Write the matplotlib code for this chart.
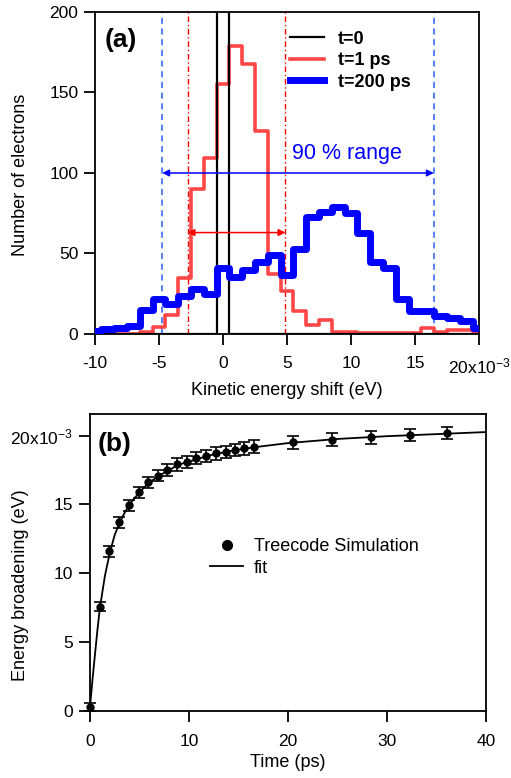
import numpy as np
import matplotlib
matplotlib.use("Agg")
import matplotlib.pyplot as plt
from matplotlib.lines import Line2D

plt.rcParams['font.family'] = ['Liberation Sans', 'DejaVu Sans']
plt.rcParams['mathtext.fontset'] = 'custom'
plt.rcParams['mathtext.rm'] = 'Liberation Sans'
plt.rcParams['mathtext.default'] = 'regular'
plt.rcParams['font.size'] = 12.5

# --- panel (a): histograms, bin centres in units of 1e-3 eV ---
bin_centers = list(range(-10, 21))
counts_t0 = [0] * 10 + [1000] + [0] * 20
counts_1ps = [0, 0, 0, 0, 1, 4.5, 12, 35, 90, 109, 155, 179, 168, 126, 37, 27,
              14, 5.5, 8.5, 1, 1, 0.5, 0.5, 0.5, 0.5, 0.5, 3.5, 1, 2.5, 2.5, 1]
counts_200ps = [2, 3, 4, 5, 15, 22, 18.5, 23.5, 28, 25, 41, 35.5, 40, 45, 49, 36.5,
                53, 72.5, 76, 79, 75, 63, 45, 41, 22, 14, 14.5, 11, 10, 8.3, 3.7]

range90_200ps = (-4.75, 16.47)
range90_1ps = (-2.77, 4.88)
xticks_a = [-10, -5, 0, 5, 10, 15, 20]
xticklabels_a = ['-10', '-5', '0', '5', '10', '15', '20x10$^{-3}$']

# --- panel (b): energy broadening vs time ---
t_sim = [0, 1.04, 1.95, 2.96, 3.94, 4.9, 5.9, 6.83, 7.8, 8.8, 9.77, 10.7, 11.7,
         12.7, 13.7, 14.6, 15.6, 16.6, 20.5, 24.4, 28.35, 32.3, 36.1]
e_sim = [0.3, 7.6, 11.6, 13.7, 14.95, 15.9, 16.6, 17.1, 17.5, 17.9, 18.1, 18.35,
         18.5, 18.7, 18.8, 18.95, 19.07, 19.2, 19.5, 19.7, 19.87, 20.04, 20.2]
e_err = [0.3, 0.3, 0.4, 0.4, 0.4, 0.4, 0.4, 0.4, 0.45, 0.45, 0.45, 0.45, 0.45,
         0.45, 0.45, 0.45, 0.45, 0.45, 0.45, 0.45, 0.45, 0.45, 0.45]
t_fit = [0, 0.25, 0.5, 0.75, 1, 1.5, 2, 2.5, 3, 3.5, 4, 5, 6, 7, 8, 9, 10, 12,
         14, 16.6, 20, 25, 30, 35, 40]
e_fit = [0.3, 2.3, 4.1, 5.9, 7.5, 9.8, 11.5, 12.8, 13.7, 14.4, 15.0, 15.9, 16.6,
         17.1, 17.5, 17.9, 18.1, 18.55, 18.85, 19.15, 19.45, 19.75, 19.95, 20.1, 20.25]
yticks_b = [0, 5, 10, 15, 20]
yticklabels_b = ['0', '5', '10', '15', '20x10$^{-3}$']

red = '#ff4646'
fig = plt.figure(figsize=(5.11, 7.78), dpi=100)

# ---------------- panel (a) ----------------
ax = fig.add_axes([0.1859, 0.5707, 0.7515, 0.4139])
edges = np.array(bin_centers + [bin_centers[-1] + 1]) - 0.5
ax.stairs(counts_1ps, edges, color=red, lw=2.6, label='t=1 ps', zorder=2,
          joinstyle='round')
ax.stairs(counts_t0, edges, color='black', lw=1.6, label='t=0', zorder=2.5)
ax.stairs(counts_200ps, edges, color='blue', lw=5, label='t=200 ps', zorder=3,
          joinstyle='round')

for xv in range90_200ps:
    ax.axvline(xv, color='#2a5cff', lw=1.1, ls=(0, (4, 3)), zorder=1.5)
for xv in range90_1ps:
    ax.axvline(xv, color='red', lw=1.0, ls=(0, (4, 2, 1, 2)), zorder=1.5)

ax.annotate('', xy=(range90_200ps[1], 100), xytext=(range90_200ps[0], 100),
            arrowprops=dict(arrowstyle='<|-|>', color='blue', lw=1.1,
                            mutation_scale=10, shrinkA=0, shrinkB=0))
ax.annotate('', xy=(range90_1ps[1], 63), xytext=(range90_1ps[0], 63),
            arrowprops=dict(arrowstyle='<|-|>', color='red', lw=1.1,
                            mutation_scale=10, shrinkA=0, shrinkB=0))
ax.text(9.7, 112, '90 % range', color='blue', fontsize=15.5, ha='center', va='center')
ax.text(0.025, 0.95, '(a)', transform=ax.transAxes, fontsize=19,
        fontweight='bold', ha='left', va='top')

ax.set_xlim(-10, 20)
ax.set_ylim(0, 200)
ax.set_xticks(xticks_a)
ax.set_xticklabels(xticklabels_a)
ax.set_yticks([0, 50, 100, 150, 200])
ax.set_xlabel('Kinetic energy shift (eV)', fontsize=13, labelpad=4)
ax.set_ylabel('Number of electrons', fontsize=13)
ax.yaxis.set_label_coords(-0.172, 0.494)
ax.tick_params(direction='out', length=8, width=1.3, labelsize=12.5)
ax.tick_params(axis='x', pad=8)
ax.tick_params(axis='y', pad=4)
for s in ax.spines.values():
    s.set_linewidth(1.3)
h, l = ax.get_legend_handles_labels()
order = [1, 0, 2]
ax.legend([h[i] for i in order], [l[i] for i in order], loc='upper left',
          bbox_to_anchor=(0.508, 0.942), frameon=False,
          borderaxespad=0, borderpad=0, handlelength=1.9, handletextpad=0.75,
          labelspacing=0.25, prop={'weight': 'bold', 'size': 13})

# ---------------- panel (b) ----------------
bx = fig.add_axes([0.1761, 0.0855, 0.7750, 0.3824])
bx.plot(t_fit, e_fit, color='black', lw=1.3)
bx.errorbar(t_sim, e_sim, yerr=e_err, fmt='o', color='black', ms=5,
            capsize=4.5, elinewidth=1.2, capthick=1.2, clip_on=False)
bx.text(0.02, 0.94, '(b)', transform=bx.transAxes, fontsize=19,
        fontweight='bold', ha='left', va='top')
bx.set_xlim(0, 40)
bx.set_ylim(0, 21.56)
bx.set_xticks([0, 10, 20, 30, 40])
bx.set_yticks(yticks_b)
bx.set_yticklabels(yticklabels_b)
bx.set_xlabel('Time (ps)', fontsize=13, labelpad=4)
bx.set_ylabel('Energy broadening (eV)', fontsize=13)
bx.yaxis.set_label_coords(-0.155, 0.425)
bx.tick_params(direction='out', length=8, width=1.3, labelsize=12.5)
bx.tick_params(axis='x', pad=8)
bx.tick_params(axis='y', pad=4)
for s in bx.spines.values():
    s.set_linewidth(1.3)
handles = [Line2D([], [], marker='o', ls='', color='black', ms=7),
           Line2D([], [], color='black', lw=1.3)]
bx.legend(handles, ['Treecode Simulation', 'fit'], loc='upper left',
          bbox_to_anchor=(0.303, 0.583), frameon=False, borderaxespad=0, borderpad=0,
          handlelength=1.85, handletextpad=0.6, labelspacing=0.25, fontsize=13)

fig.savefig('out.png', dpi=100)
